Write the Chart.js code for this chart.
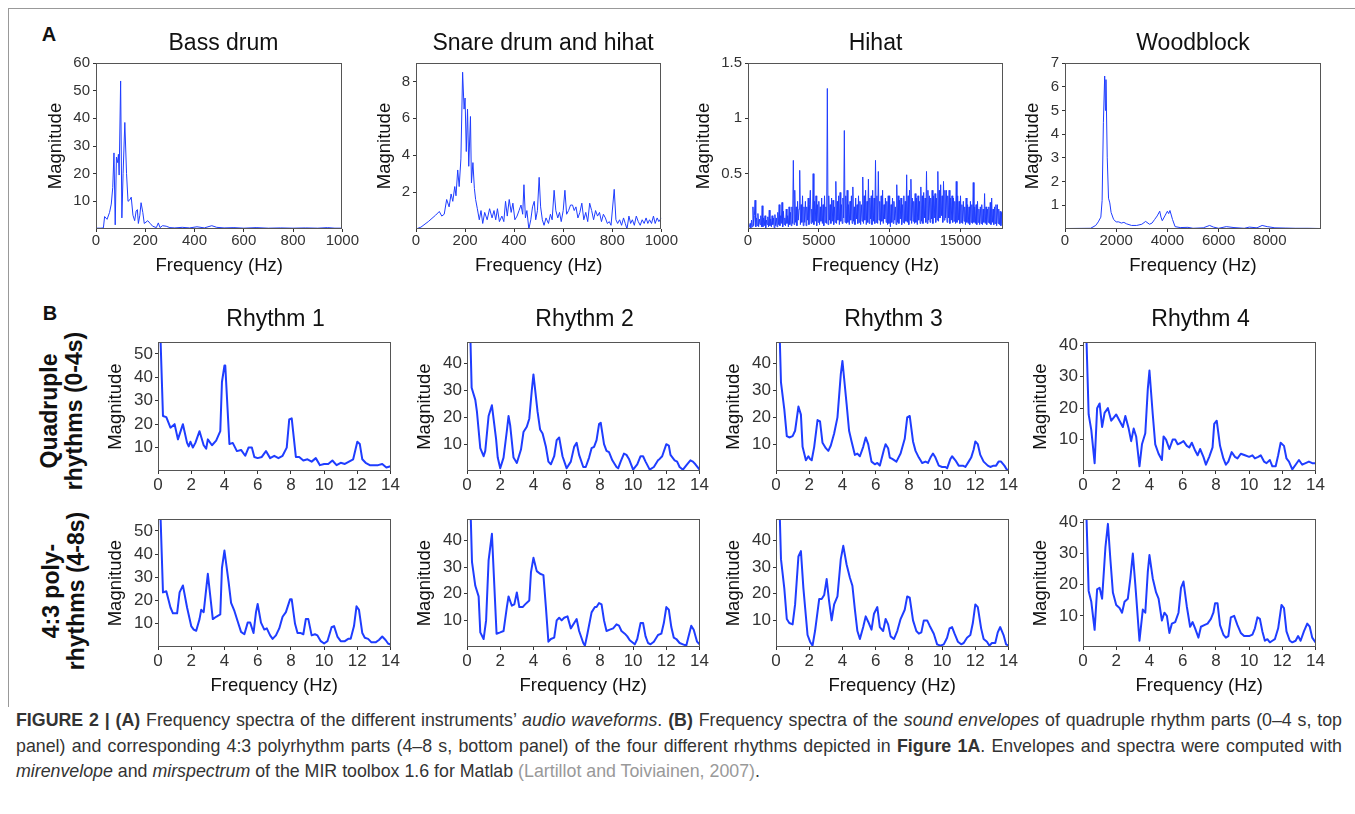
<!DOCTYPE html>
<html>
<head>
<meta charset="utf-8">
<script src="https://cdn.jsdelivr.net/npm/chart.js@4.4.0/dist/chart.umd.min.js"></script>
<style>
  body { margin: 0; width: 1355px; height: 814px; background: #fff; position: relative; overflow: hidden;
         font-family: "Liberation Sans", Arial, sans-serif; }
  .panel { position: absolute; }
  .ttl { position: absolute; font-size: 23px; line-height: 26px; color: #111; white-space: nowrap; transform: translate(-50%, -50%); }
  .letter { position: absolute; font-weight: bold; font-size: 20px; line-height: 22px; color: #111; transform: translate(-50%, -50%); }
  .rowlab { position: absolute; font-weight: bold; font-size: 23px; line-height: 25px; color: #111; text-align: center;
            white-space: nowrap; transform: translate(-50%, -50%) rotate(-90deg); }
  .frame { position: absolute; left: 8px; top: 8px; width: 1400px; height: 698px; border-top: 1px solid #999; border-left: 1px solid #999; }
  .cap { position: absolute; left: 16px; top: 708px; width: 1326px; font-size: 17.8px; color: #333; }
  .cap div { height: 25.5px; line-height: 25.5px; }
  .cap .j { text-align: justify; text-align-last: justify; }
  .cap .ref { color: #999; }
</style>
</head>
<body>
<div class="frame"></div>
<div class="letter" style="left:49px; top:34px">A</div>
<div class="letter" style="left:50px; top:313px">B</div>
<div class="rowlab" style="left:62px; top:411px">Quadruple<br>rhythms (0-4s)</div>
<div class="rowlab" style="left:64px; top:591px">4:3 poly-<br>rhythms (4-8s)</div>
<div class="cap">
  <div class="j"><b>FIGURE 2 | (A)</b> Frequency spectra of the different instruments’ <i>audio waveforms</i>. <b>(B)</b> Frequency spectra of the <i>sound envelopes</i> of quadruple rhythm parts (0–4 s, top</div>
  <div class="j">panel) and corresponding 4:3 polyrhythm parts (4–8 s, bottom panel) of the four different rhythms depicted in <b>Figure 1A</b>. Envelopes and spectra were computed with</div>
  <div><i>mirenvelope</i> and <i>mirspectrum</i> of the MIR toolbox 1.6 for Matlab <span class="ref">(Lartillot and Toiviainen, 2007)</span>.</div>
</div>
<script>
// ---- data: [frequency, magnitude] ----
const bassDrum = [[0,0.3],[20,0.3],[30,0.4],[35,4.5],[45,3.5],[55,6],[62,9],[68,15],[73,27.5],[78,1.5],[83,26],[88,24],[91,27],[94,19.5],[100,53.5],[105,4],[110,20],[117,38.5],[124,20],[130,10],[137,10.5],[143,11.5],[150,5],[157,3],[163,6.5],[168,7],[172,2],[178,5],[183,9.5],[190,6],[196,2],[203,2.5],[210,3],[220,2],[230,1],[245,0.5],[253,2.2],[260,0.5],[270,1.2],[285,1],[300,0.5],[320,0.4],[350,0.6],[380,0.4],[410,0.8],[440,0.4],[470,1.2],[490,0.6],[520,0.4],[560,0.5],[600,0.3],[650,0.5],[700,0.3],[750,0.4],[800,0.3],[850,0.4],[900,0.3],[940,0.5],[970,0.3],[1000,0.3]];

const snareHihat = [[0,0],[20,0.1],[50,0.4],[80,0.75],[95,0.95],[105,0.7],[115,0.8],[125,1.6],[135,1.2],[143,1.9],[150,1.5],[158,2.3],[163,1.8],[170,3.2],[176,2.3],[183,3.8],[190,8.5],[196,6.5],[200,7.1],[205,4.2],[210,6.5],[215,3.4],[222,6.1],[226,2.5],[232,3.6],[238,2.2],[243,1.6],[250,1.1],[258,0.5],[265,1.0],[272,0.3],[280,0.9],[290,0.5],[300,1.1],[310,0.6],[318,1.0],[325,0.5],[332,1.1],[340,0.4],[350,0.7],[358,0.4],[365,1.5],[372,0.7],[380,1.6],[388,0.9],[395,1.4],[403,0.5],[412,0.7],[420,1.0],[428,1.3],[435,0.8],[440,2.4],[446,0.6],[452,1.0],[460,0.0],[468,0.5],[475,1.2],[482,1.5],[488,0.5],[495,1.0],[502,2.8],[508,1.2],[515,0.5],[522,0.2],[530,0.6],[540,0.3],[548,0.8],[555,0.5],[563,2.1],[570,1.0],[578,0.6],[585,0.9],[592,0.4],[600,1.0],[607,2.1],[614,0.8],[622,1.0],[630,1.3],[638,1.3],[645,1.0],[652,1.2],[660,0.6],[668,0.9],[676,1.4],[684,0.5],[692,0.9],[700,0.4],[708,1.4],[716,1.0],[724,0.5],[732,1.0],[740,0.7],[748,0.9],[756,0.4],[764,0.8],[772,0.6],[780,0.3],[788,0.4],[795,0.2],[808,2.15],[815,0.5],[822,0.3],[830,0.5],[838,0.2],[846,0.6],[853,0.3],[860,0.0],[868,0.7],[875,0.3],[882,0.5],[890,0.2],[898,0.7],[906,0.4],[914,0.2],[922,0.5],[930,0.3],[938,0.6],[945,0.3],[952,0.5],[960,0.3],[968,0.7],[975,0.3],[983,0.6],[990,0.4],[1000,0.6]];

// hihat: one magnitude per 50 Hz bin, 0 .. 18000 Hz (one row = 1000 Hz)
const hihatBinHz = 50;
const hihat = [
  0.0,0.01,0.02,0.05,0.01,0.08,0.02,0.2,0.03,0.12,0.26,0.02,0.1,0.03,0.14,0.02,0.09,0.04,0.12,0.02,
  0.21,0.02,0.1,0.03,0.12,0.01,0.08,0.04,0.11,0.02,0.17,0.03,0.09,0.02,0.12,0.04,0.1,0.01,0.13,0.03,
  0.1,0.02,0.15,0.04,0.22,0.03,0.12,0.05,0.24,0.02,0.16,0.04,0.1,0.03,0.18,0.05,0.12,0.02,0.2,0.04,
  0.15,0.03,0.2,0.05,0.62,0.04,0.35,0.06,0.2,0.03,0.25,0.08,0.18,0.53,0.04,0.22,0.06,0.3,0.03,0.2,
  0.06,0.25,0.03,0.2,0.08,0.28,0.04,0.22,0.35,0.05,0.18,0.06,0.5,0.04,0.25,0.07,0.3,0.03,0.22,0.06,
  0.25,0.04,0.2,0.07,0.28,0.05,0.22,0.03,0.3,0.06,0.2,0.05,1.27,0.04,0.3,0.08,0.22,0.05,0.28,0.07,
  0.26,0.04,0.2,0.06,0.43,0.05,0.25,0.08,0.3,0.04,0.33,0.07,0.22,0.05,0.28,0.1,0.89,0.06,0.3,0.05,
  0.35,0.06,0.22,0.04,0.25,0.08,0.3,0.05,0.38,0.07,0.2,0.04,0.28,0.09,0.22,0.05,0.3,0.06,0.25,0.04,
  0.22,0.07,0.47,0.05,0.3,0.08,0.35,0.04,0.25,0.06,0.45,0.05,0.28,0.09,0.3,0.04,0.35,0.07,0.28,0.05,
  0.62,0.06,0.3,0.05,0.52,0.08,0.25,0.04,0.3,0.07,0.35,0.05,0.22,0.09,0.28,0.06,0.25,0.04,0.3,0.05,
  0.3,0.02,0.22,0.06,0.28,0.05,0.25,0.08,0.2,0.04,0.4,0.06,0.3,0.05,0.26,0.09,0.28,0.04,0.22,0.06,
  0.3,0.05,0.25,0.07,0.49,0.06,0.3,0.04,0.35,0.08,0.45,0.05,0.28,0.07,0.25,0.05,0.32,0.06,0.28,0.04,
  0.3,0.08,0.25,0.05,0.38,0.07,0.3,0.05,0.33,0.1,0.28,0.06,0.52,0.05,0.35,0.08,0.3,0.06,0.28,0.09,
  0.35,0.05,0.3,0.1,0.32,0.06,0.28,0.08,0.52,0.07,0.35,0.1,0.4,0.12,0.3,0.06,0.43,0.08,0.35,0.1,
  0.35,0.06,0.3,0.1,0.35,0.05,0.28,0.08,0.3,0.06,0.28,0.07,0.25,0.05,0.43,0.06,0.3,0.08,0.25,0.05,
  0.3,0.06,0.22,0.05,0.25,0.07,0.2,0.04,0.28,0.06,0.22,0.05,0.2,0.04,0.25,0.06,0.22,0.05,0.42,0.06,
  0.2,0.05,0.22,0.04,0.25,0.06,0.18,0.04,0.2,0.05,0.22,0.04,0.18,0.06,0.32,0.05,0.2,0.04,0.18,0.06,
  0.2,0.05,0.24,0.04,0.28,0.06,0.18,0.04,0.2,0.05,0.22,0.03,0.22,0.05,0.18,0.04,0.16,0.03,0.15,0.05,
  0.1];

const woodblock = [[0,0.02],[1000,0.03],[1200,0.15],[1300,0.3],[1400,0.5],[1450,1.2],[1500,4.5],[1550,6.45],[1580,5.0],[1600,6.3],[1650,3.0],[1700,1.3],[1750,1.1],[1800,0.7],[1900,0.4],[2000,0.3],[2100,0.3],[2200,0.25],[2300,0.28],[2400,0.22],[2600,0.15],[2800,0.15],[3000,0.2],[3150,0.32],[3300,0.2],[3400,0.25],[3500,0.4],[3600,0.55],[3700,0.75],[3750,0.5],[3800,0.35],[3900,0.55],[4000,0.75],[4050,0.65],[4100,0.78],[4200,0.4],[4300,0.1],[4500,0.06],[4800,0.07],[5000,0.03],[5400,0.05],[5650,0.15],[5800,0.08],[6000,0.03],[6300,0.1],[6600,0.06],[7000,0.03],[7200,0.08],[7500,0.05],[7700,0.15],[7900,0.1],[8200,0.05],[8600,0.04],[9000,0.03],[9500,0.03],[10000,0.02]];

// envelope spectra, quadruple parts (0-4 s)
const r1Quad = [[0,90],[0.3,23.5],[0.5,23],[0.75,18.5],[1.0,20],[1.2,13.5],[1.5,20],[1.75,12],[1.85,10.5],[1.95,12.5],[2.1,10],[2.25,12],[2.5,17],[2.75,11],[2.9,9.5],[3.0,13.5],[3.25,11],[3.5,13],[3.75,17],[3.85,38],[4.0,45],[4.05,45],[4.3,11.5],[4.5,12],[4.75,8.5],[5.0,9],[5.25,6.5],[5.45,10],[5.65,10],[5.8,6],[6.0,5.5],[6.25,6],[6.5,8.5],[6.75,5.5],[7.0,6.5],[7.25,5.5],[7.5,6.5],[7.75,10],[7.9,22],[8.05,22.5],[8.3,6],[8.5,6],[8.75,4.5],[9.0,5],[9.25,4],[9.5,5.5],[9.75,2.5],[10.0,3],[10.25,3],[10.5,4.5],[10.75,2.5],[11.0,3.5],[11.25,3],[11.5,4],[11.75,5],[12.0,12.5],[12.15,11.5],[12.3,5],[12.5,3.5],[12.75,2.5],[13.0,2.5],[13.25,2.5],[13.5,3],[13.75,1.5],[14.0,2]];
const r2Quad = [[0,100],[0.28,31],[0.5,26.5],[0.6,22],[0.8,8.5],[1.0,5.5],[1.1,7.5],[1.3,20.5],[1.5,24.5],[1.75,12],[1.85,5],[2.0,1],[2.2,5],[2.4,15],[2.5,20.5],[2.6,17],[2.8,5],[3.0,3],[3.25,8],[3.4,14.5],[3.6,16.5],[3.75,19.5],[3.9,30],[4.0,36],[4.25,22],[4.4,15.5],[4.55,14],[4.75,9],[4.9,3.5],[5.05,2.5],[5.25,5.5],[5.4,11.5],[5.55,12.5],[5.75,5.5],[6.0,1],[6.25,3.5],[6.45,9],[6.6,10.5],[6.75,6],[7.0,1.5],[7.15,1.5],[7.35,5],[7.5,8.5],[7.65,9],[7.8,11.5],[7.95,17.5],[8.05,18],[8.25,10],[8.4,7.5],[8.55,7],[8.75,4],[9.0,1.5],[9.1,1],[9.25,3.5],[9.45,6.5],[9.6,6],[9.75,4.5],[10.0,0.5],[10.25,2.5],[10.45,5.5],[10.6,5.5],[10.75,3.5],[11.0,0.5],[11.25,1.5],[11.5,4],[11.6,4.5],[11.75,5.5],[12.0,10],[12.15,9.5],[12.25,6],[12.5,4],[12.65,3.5],[12.8,1.5],[13.0,0.5],[13.25,2.5],[13.45,4],[13.6,3.5],[13.75,2.5],[14.0,0.5]];
const r3Quad = [[0,100],[0.3,33],[0.5,23],[0.65,13],[0.8,12.5],[1.0,13],[1.15,15],[1.35,24],[1.5,21],[1.6,9],[1.8,4],[1.95,5.5],[2.05,4.5],[2.15,4],[2.3,9],[2.5,19],[2.65,18.5],[2.8,10.5],[3.0,8.5],[3.15,7.5],[3.3,9.5],[3.5,14],[3.7,20],[3.9,36],[4.0,41],[4.25,25],[4.4,15],[4.55,11],[4.75,6],[4.9,6.5],[5.05,5.5],[5.25,9],[5.4,12.5],[5.55,10],[5.75,3.5],[5.95,2.5],[6.1,3],[6.25,2],[6.5,8],[6.6,10],[6.75,8.5],[6.85,5],[7.0,4.5],[7.25,3.5],[7.5,6.5],[7.75,12],[7.9,20],[8.05,20.5],[8.25,11],[8.4,7.5],[8.6,5],[8.8,3],[9.0,3.5],[9.15,3],[9.3,5],[9.45,6.5],[9.6,5],[9.8,2],[10.0,1.5],[10.2,1.5],[10.3,1],[10.5,4.5],[10.6,5.5],[10.8,4],[11.0,2],[11.25,2],[11.4,1.5],[11.6,3.5],[11.75,5],[11.9,8],[12.0,11],[12.15,10],[12.3,6],[12.5,3.5],[12.75,2],[12.9,1.5],[13.1,2],[13.25,2],[13.4,3.5],[13.55,3.5],[13.75,2],[13.9,0.5],[14.0,0.5]];
const r4Quad = [[0,80],[0.34,18],[0.5,13],[0.7,2.5],[0.85,20],[1.0,21.5],[1.15,14],[1.3,18.5],[1.5,20],[1.7,16],[1.85,17],[2.0,18],[2.2,16],[2.4,14],[2.55,17.5],[2.75,13.5],[2.9,9.5],[3.05,13.5],[3.2,11],[3.4,1.5],[3.55,8.5],[3.75,12],[3.9,26],[4.0,32],[4.2,18],[4.35,8.5],[4.55,5.5],[4.75,3.5],[4.85,11],[5.0,10],[5.2,7],[5.4,10],[5.55,10],[5.7,8.5],[5.9,9],[6.05,9.5],[6.25,8],[6.4,7.5],[6.55,9],[6.75,6.5],[6.9,5],[7.05,7],[7.25,4.5],[7.4,2],[7.6,4.5],[7.8,7.5],[7.9,15],[8.05,16],[8.25,8],[8.45,4],[8.6,2],[8.75,3],[8.95,6],[9.15,4.5],[9.3,4],[9.5,5.5],[9.75,5],[10.0,4.5],[10.2,5],[10.35,4],[10.55,4.5],[10.7,5],[10.9,3],[11.05,2.5],[11.25,3.5],[11.4,1.5],[11.6,1.5],[11.75,5],[11.9,9],[12.1,8],[12.25,4],[12.4,3],[12.6,0.5],[12.8,2],[13.0,3.5],[13.2,2],[13.4,2.5],[13.6,3],[13.8,2.5],[14.0,2.5]];

// envelope spectra, 4:3 polyrhythm parts (4-8 s)
const r1Poly = [[0,90],[0.3,23.5],[0.5,24],[0.75,17],[0.9,14.5],[1.15,14.5],[1.3,23.5],[1.5,26.5],[1.75,17],[2.0,9],[2.15,7.5],[2.3,7],[2.5,12],[2.6,16],[2.75,15],[3.0,31.5],[3.3,12],[3.5,13],[3.75,14],[3.85,34],[4.0,41.5],[4.25,28],[4.4,19],[4.6,15.5],[4.8,11],[5.0,6.5],[5.2,5.5],[5.4,10.5],[5.55,10.5],[5.75,6],[5.9,15],[6.0,18.5],[6.2,10.5],[6.4,7.5],[6.55,8],[6.75,5],[6.9,3.5],[7.1,5],[7.3,8],[7.5,13],[7.7,15],[7.95,20.5],[8.05,20.5],[8.25,10],[8.4,6],[8.6,6],[8.75,5.5],[8.9,12],[9.05,12],[9.25,5],[9.45,5.5],[9.6,5],[9.8,2.5],[10.0,1.5],[10.2,2.5],[10.45,8.5],[10.6,9],[10.8,4.5],[11.0,2.5],[11.25,2.5],[11.45,3.5],[11.6,3.5],[11.8,9],[11.95,17.5],[12.1,16],[12.3,6],[12.45,4],[12.65,3.5],[12.85,2],[13.1,2],[13.3,3],[13.5,4.5],[13.7,3],[13.85,1.5],[14.0,1]];
const r2Poly = [[0,100],[0.3,32],[0.5,23],[0.7,19],[0.8,5.5],[1.0,3],[1.15,10],[1.3,32.5],[1.5,42.5],[1.78,5],[2.0,5.5],[2.2,6],[2.4,15],[2.5,19],[2.7,15.5],[2.85,16],[3.0,20.5],[3.15,15],[3.35,15],[3.5,16],[3.75,17.5],[3.85,28],[4.0,33.5],[4.2,28.5],[4.4,27.5],[4.6,27],[4.75,15],[4.9,2],[5.05,3],[5.25,3.5],[5.4,10],[5.55,11],[5.7,10],[5.85,11],[6.05,11.5],[6.25,7],[6.5,9.5],[6.6,10.5],[6.75,6],[7.0,1.5],[7.1,0.5],[7.25,5],[7.5,13],[7.7,15],[7.8,15],[7.95,16.5],[8.1,16],[8.25,10],[8.4,6],[8.6,6.5],[8.8,7],[9.0,8.5],[9.15,8],[9.3,6],[9.5,5],[9.65,4],[9.8,2.5],[10.1,1],[10.25,3],[10.45,9],[10.6,9],[10.75,4],[10.9,1.5],[11.05,1],[11.25,2],[11.5,4.5],[11.7,5],[11.85,9],[12.0,15],[12.15,14],[12.3,7.5],[12.45,3.5],[12.6,3],[12.8,1.5],[13.0,1],[13.2,0.5],[13.3,3],[13.5,8],[13.65,6.5],[13.85,2],[14.0,1]];
const r3Poly = [[0,100],[0.3,33],[0.5,22],[0.65,10.5],[0.8,9],[1.0,8.5],[1.15,16],[1.35,34],[1.5,36],[1.65,22],[1.9,4.5],[2.05,2],[2.2,0.5],[2.35,6],[2.6,18],[2.75,18],[2.9,19.5],[3.05,25.5],[3.2,17],[3.35,10],[3.5,16],[3.7,19],[3.9,33],[4.05,38],[4.25,31],[4.45,26],[4.6,23],[4.75,14],[4.9,6],[5.05,3],[5.25,7.5],[5.4,11.5],[5.55,9.5],[5.75,6.5],[5.9,12.5],[6.1,15],[6.25,7.5],[6.45,6],[6.6,10.5],[6.75,8.5],[6.9,4],[7.1,3],[7.3,6],[7.5,10.5],[7.75,14],[7.9,19],[8.05,18.5],[8.25,10],[8.45,6],[8.6,5],[8.75,5.5],[8.9,10],[9.1,10],[9.25,8],[9.5,5],[9.7,1],[9.9,0.5],[10.1,1],[10.3,3.5],[10.45,7],[10.6,7.5],[10.75,5],[10.95,2],[11.15,1],[11.3,1.5],[11.5,3.5],[11.7,4.5],[11.85,9],[12.0,16],[12.15,15],[12.35,7],[12.5,3],[12.7,2],[12.85,0.5],[13.0,1.5],[13.2,1.5],[13.35,5.5],[13.5,7.5],[13.7,4.5],[13.85,1],[14.0,0.5]];
const r4Poly = [[0,80],[0.34,18],[0.5,14.5],[0.7,5.5],[0.85,18.5],[1.0,19],[1.15,15.5],[1.35,32],[1.5,39.5],[1.65,28],[1.8,17.5],[2.0,13.5],[2.2,12.5],[2.35,11],[2.5,14.5],[2.7,15.5],[2.85,22],[3.0,30],[3.15,20],[3.4,2],[3.6,12],[3.75,11],[3.9,24],[4.0,29.5],[4.2,22],[4.4,17.5],[4.55,15.5],[4.75,8.5],[4.9,11],[5.05,10],[5.2,4.5],[5.35,7.5],[5.55,8],[5.75,11],[5.9,19],[6.05,21],[6.25,13],[6.45,6.5],[6.6,8],[6.75,6],[6.95,3],[7.1,6.5],[7.3,7],[7.5,7.5],[7.7,9],[7.85,11],[7.95,14],[8.1,14],[8.25,7],[8.45,4],[8.6,3],[8.75,3.5],[8.9,9.5],[9.1,10],[9.3,7],[9.5,4.5],[9.7,3.5],[10.0,3.5],[10.2,4],[10.35,6],[10.5,9.5],[10.65,9],[10.8,5],[10.95,2],[11.1,2.5],[11.25,1.5],[11.4,2],[11.55,2.5],[11.75,6],[11.95,13.5],[12.1,12.5],[12.25,5],[12.45,2],[12.6,1.5],[12.8,2],[12.95,3.5],[13.1,2],[13.3,5],[13.5,7.5],[13.65,6.5],[13.8,3],[14.0,1.5]];

// ---- axis ticks and titles ----
const drumFreqTicks = [0, 200, 400, 600, 800, 1000];
const hihatFreqTicks = [0, 5000, 10000, 15000];
const woodFreqTicks = [0, 2000, 4000, 6000, 8000];
const rhythmFreqTicks = [0, 2, 4, 6, 8, 10, 12, 14];
const bassMagTicks = [10, 20, 30, 40, 50, 60];
const snareMagTicks = [2, 4, 6, 8];
const hihatMagTicks = [0.5, 1, 1.5];
const woodMagTicks = [1, 2, 3, 4, 5, 6, 7];
const rhythmMagTicks = [10, 20, 30, 40];
const rhythm1MagTicks = [10, 20, 30, 40, 50];
const instrumentTitles = ['Bass drum', 'Snare drum and hihat', 'Hihat', 'Woodblock'];
const rhythmTitles = ['Rhythm 1', 'Rhythm 2', 'Rhythm 3', 'Rhythm 4'];

const FONT = '"Liberation Sans", Arial, sans-serif';
const BLUE = '#1f3dff';

// frame round the plot area
const framePlugin = {
  id: 'frame',
  afterDraw(chart) {
    const { ctx, chartArea: a } = chart;
    ctx.save();
    ctx.strokeStyle = '#555';
    ctx.lineWidth = 1;
    ctx.strokeRect(Math.round(a.left) + 0.5, Math.round(a.top) + 0.5,
                   Math.round(a.right - a.left) - 1, Math.round(a.bottom - a.top) - 1);
    ctx.restore();
  }
};

function addTitle(text, x, y) {
  const d = document.createElement('div');
  d.className = 'ttl';
  d.textContent = text;
  d.style.left = x + 'px';
  d.style.top = y + 'px';
  document.body.appendChild(d);
}

function makePanel(p) {
  const padL = 70, padT = 6, padR = 8;
  const w = p.r - p.l + padL + padR, h = p.b - p.t + padT + p.padB;
  const box = document.createElement('div');
  box.className = 'panel';
  box.style.left = (p.l - padL) + 'px';
  box.style.top = (p.t - padT) + 'px';
  box.style.width = w + 'px';
  box.style.height = h + 'px';
  const cv = document.createElement('canvas');
  box.appendChild(cv);
  document.body.appendChild(box);

  const tickFont = { family: FONT, size: p.big ? 17 : 15 };
  const titleFont = { family: FONT, size: 18.5 };
  const grid = { display: true, drawOnChartArea: false, drawTicks: true, tickLength: 3, color: '#333' };

  new Chart(cv, {
    type: 'line',
    data: {
      datasets: [{
        data: p.data.map(d => ({ x: d[0], y: d[1] })),
        borderColor: BLUE,
        borderWidth: p.big ? 2 : 1,
        borderJoinStyle: 'round',
        pointRadius: 0,
        tension: 0,
        fill: false
      }]
    },
    options: {
      responsive: true,
      maintainAspectRatio: false,
      animation: false,
      events: [],
      layout: { padding: { left: 0, top: padT, right: padR, bottom: 0 } },
      plugins: { legend: { display: false }, tooltip: { enabled: false } },
      scales: {
        x: {
          type: 'linear', min: 0, max: p.xMax,
          afterBuildTicks: s => { s.ticks = p.xTicks.map(v => ({ value: v })); },
          afterFit: s => { s.height = p.padB; },
          grid: grid, border: { display: false },
          ticks: { font: tickFont, color: '#333', padding: p.big ? 1 : 0, maxRotation: 0, autoSkip: false, callback: v => String(v) },
          title: { display: p.xTitle, text: 'Frequency (Hz)', font: titleFont, color: '#111', padding: { top: 0, bottom: 2 } }
        },
        y: {
          type: 'linear', min: 0, max: p.yMax,
          afterBuildTicks: s => { s.ticks = p.yTicks.map(v => ({ value: v })); },
          afterFit: s => { s.width = padL; },
          grid: grid, border: { display: false },
          ticks: { font: tickFont, color: '#333', padding: p.big ? 2 : 3, autoSkip: false, callback: v => String(v) },
          title: { display: true, text: 'Magnitude', font: titleFont, color: '#111',
                   padding: { top: padL - p.yGap - titleFont.size * 0.6, bottom: 0 } }
        }
      }
    },
    plugins: [framePlugin]
  });

  if (p.title) addTitle(p.title, (p.l + p.r) / 2, p.big ? 318 : 41.5);
}

const hihatPairs = hihat.map((m, i) => [i * hihatBinHz, m]);

const panels = [
  { title: instrumentTitles[0], l: 96,  r: 351,  t: 57, b: 229, padB: 50, data: bassDrum,   xMax: 1000,  xTicks: drumFreqTicks,  yMax: 60,  yTicks: bassMagTicks,  yGap: 40.5, xTitle: true },
  { title: instrumentTitles[1], l: 416, r: 670,  t: 57, b: 229, padB: 50, data: snareHihat, xMax: 1000,  xTicks: drumFreqTicks,  yMax: 9,   yTicks: snareMagTicks, yGap: 30.7, xTitle: true },
  { title: instrumentTitles[2], l: 748, r: 1003, t: 57, b: 229, padB: 50, data: hihatPairs, xMax: 18000, xTicks: hihatFreqTicks, yMax: 1.5, yTicks: hihatMagTicks, yGap: 43.7, xTitle: true },
  { title: instrumentTitles[3], l: 1065, r: 1321, t: 57, b: 229, padB: 50, data: woodblock, xMax: 10000, xTicks: woodFreqTicks,  yMax: 7,   yTicks: woodMagTicks,  yGap: 31.7, xTitle: true }
];

const quad = [r1Quad, r2Quad, r3Quad, r4Quad];
const poly = [r1Poly, r2Poly, r3Poly, r4Poly];
const rhythmLeft = [158, 467, 776, 1083];
const rhythmYMax = [55, 48, 48, 41];
const rhythmYTicks = [rhythm1MagTicks, rhythmMagTicks, rhythmMagTicks, rhythmMagTicks];

for (let i = 0; i < 4; i++) {
  panels.push({ title: rhythmTitles[i], big: true, l: rhythmLeft[i], r: rhythmLeft[i] + 235, t: 336, b: 471, padB: 26,
                data: quad[i], xMax: 14, xTicks: rhythmFreqTicks, yMax: rhythmYMax[i], yTicks: rhythmYTicks[i], yGap: 42, xTitle: false });
  panels.push({ title: '', big: true, l: rhythmLeft[i], r: rhythmLeft[i] + 235, t: 513, b: 647, padB: 52,
                data: poly[i], xMax: 14, xTicks: rhythmFreqTicks, yMax: rhythmYMax[i], yTicks: rhythmYTicks[i], yGap: 42, xTitle: true });
}

panels.forEach(makePanel);
</script>
</body>
</html>
